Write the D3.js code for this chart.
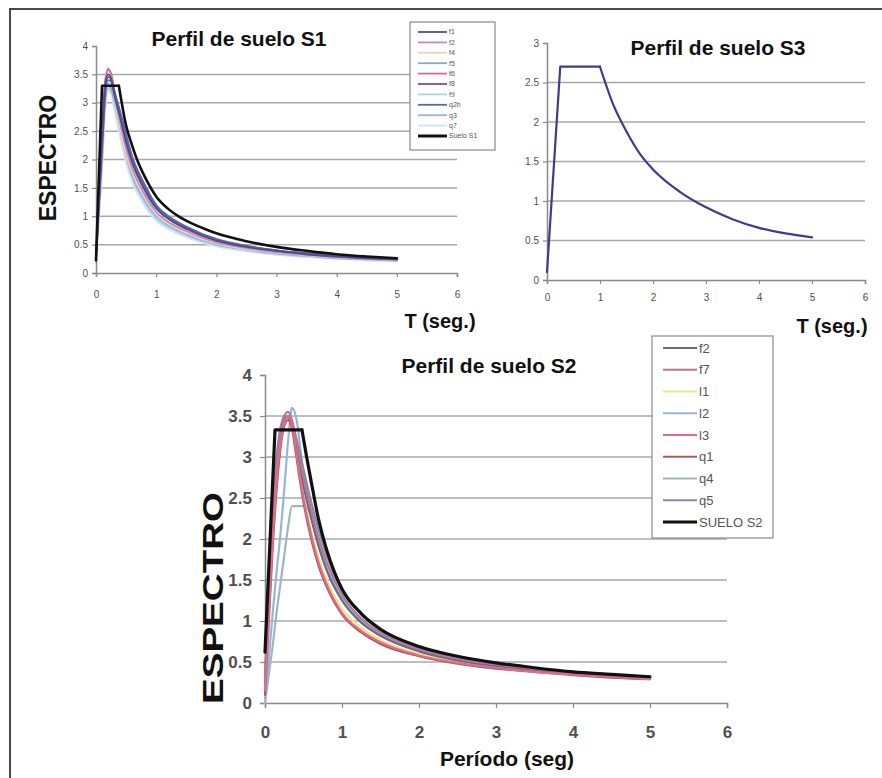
<html>
<head>
<meta charset="utf-8">
<script src="https://cdn.jsdelivr.net/npm/d3@7"></script>
<style>
body { margin: 0; background: #fff; }
.chart text { font-family: "Liberation Sans", Arial, sans-serif; }
</style>
</head>
<body>
<svg class="chart"></svg>
<script>

// ---------- data ----------

// Perfil de suelo S1
var s1Names = ["f1", "f2", "f4", "f5", "f6", "f8", "f9", "q2h", "q3", "q7", "Suelo S1"];
var s1Colors = ["#4b4b9c", "#c48cb0", "#f4cfc0", "#86aeb8", "#cf6f94", "#8e4f78", "#acd0ea", "#5a6a9c", "#94b6e0", "#d2e2f2", "#111111"];
var s1T = [0, 0.1, 0.15, 0.2, 0.25, 0.3, 0.4, 0.5, 0.6, 0.8, 1.0, 1.25, 1.5, 2.0, 2.5, 3.0, 3.5, 4.0, 4.5, 5.0];
var s1_f1  = [0.3, 2.4, 3.3, 3.5, 3.42, 3.15, 2.75, 2.3, 1.95, 1.48, 1.14, 0.92, 0.78, 0.57, 0.46, 0.39, 0.33, 0.29, 0.26, 0.24];
var s1_f2  = [0.28, 2.2, 3.2, 3.6, 3.5, 3.2, 2.65, 2.2, 1.85, 1.4, 1.08, 0.87, 0.74, 0.54, 0.44, 0.37, 0.32, 0.28, 0.25, 0.23];
var s1_f4  = [0.3, 2.5, 3.4, 3.62, 3.45, 3.1, 2.55, 2.1, 1.78, 1.35, 1.04, 0.84, 0.71, 0.52, 0.42, 0.36, 0.31, 0.27, 0.25, 0.23];
var s1_f5  = [0.25, 2.1, 3.0, 3.3, 3.25, 3.05, 2.6, 2.15, 1.8, 1.38, 1.06, 0.86, 0.72, 0.53, 0.43, 0.36, 0.31, 0.28, 0.25, 0.23];
var s1_f6  = [0.3, 2.3, 3.35, 3.58, 3.52, 3.25, 2.78, 2.35, 1.98, 1.5, 1.15, 0.93, 0.78, 0.57, 0.46, 0.39, 0.33, 0.29, 0.26, 0.24];
var s1_f8  = [0.27, 2.2, 3.1, 3.45, 3.42, 3.2, 2.82, 2.4, 2.02, 1.55, 1.18, 0.95, 0.8, 0.58, 0.47, 0.4, 0.34, 0.3, 0.27, 0.24];
var s1_f9  = [0.22, 1.9, 2.9, 3.25, 3.2, 2.95, 2.45, 2.0, 1.66, 1.25, 0.96, 0.78, 0.66, 0.48, 0.39, 0.33, 0.29, 0.26, 0.23, 0.21];
var s1_q2h = [0.26, 2.3, 3.2, 3.4, 3.38, 3.22, 2.85, 2.45, 2.06, 1.58, 1.2, 0.97, 0.82, 0.6, 0.48, 0.4, 0.35, 0.3, 0.27, 0.25];
var s1_q3  = [0.24, 2.0, 3.05, 3.35, 3.3, 3.05, 2.55, 2.08, 1.72, 1.3, 1.0, 0.81, 0.68, 0.5, 0.41, 0.34, 0.3, 0.26, 0.24, 0.22];
var s1_q7  = [0.22, 1.8, 2.8, 3.2, 3.15, 2.9, 2.4, 1.95, 1.6, 1.2, 0.92, 0.75, 0.63, 0.47, 0.38, 0.32, 0.28, 0.25, 0.22, 0.2];
var s1CodeT = [0, 0.1, 0.38, 0.5, 0.6, 0.7, 0.8, 1.0, 1.2, 1.4, 1.6, 1.8, 2.0, 2.5, 3.0, 3.5, 4.0, 4.5, 5.0];
var s1Code  = [0.22, 3.3, 3.3, 2.6, 2.25, 1.95, 1.72, 1.35, 1.13, 0.98, 0.87, 0.78, 0.7, 0.56, 0.46, 0.39, 0.33, 0.29, 0.26];

// Perfil de suelo S3
var s3T    = [0, 0.25, 1.0, 1.25, 1.5, 1.75, 2.0, 2.5, 3.0, 3.5, 4.0, 4.5, 5.0];
var s3Vals = [0.1, 2.7, 2.7, 2.22, 1.88, 1.6, 1.4, 1.12, 0.92, 0.77, 0.66, 0.59, 0.54];

// Perfil de suelo S2
var s2Names = ["f2", "f7", "l1", "l2", "l3", "q1", "q4", "q5", "SUELO S2"];
var s2Colors = ["#6a6a82", "#b27898", "#efe48c", "#96b6d8", "#de6c8e", "#a85c5c", "#9fb6c0", "#8a88a2", "#111111"];
var s2T = [0, 0.05, 0.1, 0.15, 0.2, 0.25, 0.3, 0.35, 0.4, 0.5, 0.6, 0.7, 0.8, 1.0, 1.25, 1.5, 2.0, 2.5, 3.0, 3.5, 4.0, 4.5, 5.0];
var s2_f2 = [0.3, 1.4, 2.3, 2.9, 3.25, 3.45, 3.5, 3.4, 3.15, 2.65, 2.25, 1.9, 1.62, 1.25, 0.98, 0.82, 0.63, 0.52, 0.45, 0.4, 0.36, 0.33, 0.31];
var s2_f7 = [0.25, 1.3, 2.2, 2.85, 3.25, 3.5, 3.55, 3.45, 3.25, 2.75, 2.35, 2.0, 1.72, 1.32, 1.03, 0.86, 0.66, 0.54, 0.47, 0.42, 0.38, 0.34, 0.31];
var s2_l1 = [0.2, 1.2, 2.1, 2.75, 3.2, 3.45, 3.5, 3.35, 3.05, 2.52, 2.1, 1.76, 1.5, 1.15, 0.92, 0.77, 0.6, 0.5, 0.44, 0.39, 0.35, 0.32, 0.3];
var s2_l2 = [0.05, 0.55, 1.1, 1.6, 2.05, 2.6, 3.2, 3.6, 3.5, 2.8, 2.3, 1.95, 1.67, 1.28, 1.01, 0.84, 0.64, 0.53, 0.46, 0.41, 0.37, 0.34, 0.31];
var s2_l3 = [0.15, 1.1, 2.0, 2.7, 3.15, 3.4, 3.5, 3.4, 3.1, 2.5, 2.05, 1.7, 1.45, 1.1, 0.88, 0.74, 0.58, 0.49, 0.43, 0.38, 0.35, 0.32, 0.29];
var s2_q1 = [0.1, 1.0, 1.9, 2.6, 3.1, 3.38, 3.45, 3.35, 3.05, 2.45, 2.0, 1.66, 1.42, 1.08, 0.86, 0.72, 0.57, 0.48, 0.42, 0.38, 0.34, 0.31, 0.29];
var s2_q4 = [0.0, 0.35, 0.7, 1.1, 1.45, 1.8, 2.15, 2.4, 2.4, 2.4, 2.3, 1.98, 1.7, 1.3, 1.02, 0.85, 0.65, 0.54, 0.47, 0.41, 0.37, 0.34, 0.31];
var s2_q5 = [0.3, 1.45, 2.4, 3.0, 3.35, 3.5, 3.48, 3.38, 3.25, 2.85, 2.45, 2.1, 1.8, 1.38, 1.08, 0.89, 0.68, 0.56, 0.48, 0.42, 0.38, 0.35, 0.32];
var s2CodeT = [0, 0.13, 0.48, 0.55, 0.6, 0.7, 0.8, 0.9, 1.0, 1.25, 1.5, 2.0, 2.5, 3.0, 3.5, 4.0, 4.5, 5.0];
var s2Code  = [0.62, 3.33, 3.33, 2.95, 2.7, 2.22, 1.87, 1.6, 1.39, 1.09, 0.9, 0.69, 0.57, 0.49, 0.43, 0.38, 0.35, 0.32];

var xTicks = [0, 1, 2, 3, 4, 5, 6];
var yTicks4 = [0, 0.5, 1, 1.5, 2, 2.5, 3, 3.5, 4];
var yTicks3 = [0, 0.5, 1, 1.5, 2, 2.5, 3];

// ---------- drawing ----------

var width = 882, height = 778;
var chart = d3.select(".chart").attr("width", width).attr("height", height);

function pts(ts, vs) {
	return ts.map(function(t, i) { return [t, vs[i]]; });
}

// outer frame (only top and left edges are inside the picture)
chart.append("path")
	.attr("d", "M10,778 L10,9 L882,9")
	.attr("fill", "none")
	.attr("stroke", "#4a4a4a")
	.attr("stroke-width", 2);

function panel(opt) {
	var x = d3.scaleLinear().domain([0, 6]).range([opt.left, opt.right]);
	var y = d3.scaleLinear().domain([0, opt.ymax]).range([opt.bottom, opt.top]);
	var g = chart.append("g");

	// grid
	g.selectAll(".grid").data(opt.yTicks.filter(function(d) { return d > 0 && d < opt.ymax; }))
	  .enter().append("line")
		.attr("x1", x(0)).attr("x2", x(6))
		.attr("y1", function(d) { return y(d); }).attr("y2", function(d) { return y(d); })
		.attr("stroke", "#a9a9a9").attr("stroke-width", 1.5);

	var ya = g.append("g")
		.attr("transform", "translate(" + x(0) + ",0)")
		.call(d3.axisLeft(y).tickValues(opt.yTicks).tickSize(opt.tick).tickPadding(opt.ypad)
			.tickFormat(function(d) { return d; }));
	var xa = g.append("g")
		.attr("transform", "translate(0," + y(0) + ")")
		.call(d3.axisBottom(x).tickValues(xTicks).tickSize(opt.tick).tickPadding(opt.xpad)
			.tickFormat(d3.format("d")));
	[ya, xa].forEach(function(a) {
		a.select(".domain").attr("stroke", "#8a8a8a").attr("stroke-width", 1.5);
		a.selectAll(".tick line").attr("stroke", "#8a8a8a").attr("stroke-width", 1.2);
		a.selectAll("text").attr("font-size", opt.fs).attr("fill", "#505050")
			.attr("font-weight", opt.fw).attr("font-family", "'Liberation Sans', Arial, sans-serif");
	});

	var smooth = d3.line()
		.x(function(d) { return x(d[0]); })
		.y(function(d) { return y(d[1]); })
		.curve(d3.curveMonotoneX);
	var straight = d3.line()
		.x(function(d) { return x(d[0]); })
		.y(function(d) { return y(d[1]); });

	opt.series.forEach(function(s) {
		// code spectra: straight rise and plateau, smooth decay
		var parts = s.lin ? [straight(s.points.slice(0, s.lin)), smooth(s.points.slice(s.lin - 1))]
			: [smooth(s.points)];
		parts.forEach(function(d) {
			g.append("path")
				.attr("d", d)
				.attr("fill", "none")
				.attr("stroke", s.color)
				.attr("stroke-width", s.w)
				.attr("stroke-linejoin", "round")
				.attr("stroke-linecap", "round");
		});
	});

	// title
	g.append("text")
		.attr("x", opt.titleX).attr("y", opt.titleY)
		.attr("text-anchor", "middle")
		.attr("font-size", "21px").attr("font-weight", "bold").attr("fill", "#111")
		.text(opt.title);
	return { x: x, y: y, g: g };
}

// S1
var s1Records = [s1_f1, s1_f2, s1_f4, s1_f5, s1_f6, s1_f8, s1_f9, s1_q2h, s1_q3, s1_q7];
var s1Series = [];
var s1Order = [6, 9, 8, 3, 2, 1, 4, 5, 7, 0];
s1Order.forEach(function(k) {
	s1Series.push({ points: pts(s1T, s1Records[k]), color: s1Colors[k], w: 1.8 });
});
s1Series.push({ points: pts(s1CodeT, s1Code), color: s1Colors[10], w: 2.6, lin: 3 });

panel({ left: 96, right: 457, top: 46, bottom: 273, ymax: 4, yTicks: yTicks4,
	tick: 4, ypad: 4, xpad: 14, fs: "10px", fw: "normal",
	series: s1Series, title: "Perfil de suelo S1", titleX: 239, titleY: 46 });

// S3
panel({ left: 547, right: 865, top: 43, bottom: 280, ymax: 3, yTicks: yTicks3,
	tick: 4, ypad: 4, xpad: 10, fs: "10px", fw: "normal",
	series: [{ points: pts(s3T, s3Vals), color: "#3d3d8e", w: 2.2, lin: 3 }],
	title: "Perfil de suelo S3", titleX: 718, titleY: 55 });

// S2
var s2Records = [s2_f2, s2_f7, s2_l1, s2_l2, s2_l3, s2_q1, s2_q4, s2_q5];
var s2Series = [];
var s2Order = [6, 3, 2, 0, 7, 1, 5, 4];
s2Order.forEach(function(k) {
	s2Series.push({ points: pts(s2T, s2Records[k]), color: s2Colors[k], w: 2.2 });
});
s2Series.push({ points: pts(s2CodeT, s2Code), color: s2Colors[8], w: 3.2, lin: 3 });

panel({ left: 265, right: 727, top: 375, bottom: 703, ymax: 4, yTicks: yTicks4,
	tick: 5, ypad: 8, xpad: 18, fs: "17px", fw: "bold",
	series: s2Series, title: "Perfil de suelo S2", titleX: 489, titleY: 373 });

// axis titles
function label(txt, x, y, size, rot, len) {
	var t = chart.append("text")
		.attr("transform", "translate(" + x + "," + y + ")" + (rot ? " rotate(-90)" : ""))
		.attr("text-anchor", "middle")
		.attr("font-size", size).attr("font-weight", "bold").attr("fill", "#111")
		.text(txt);
	if (len) t.attr("textLength", len).attr("lengthAdjust", "spacingAndGlyphs");
}
label("ESPECTRO", 56, 158, "23px", true);
label("T (seg.)", 440, 328, "20px", false);
label("T (seg.)", 832, 333, "20px", false);
label("ESPECTRO", 223, 598, "30px", true, 212);
label("Período (seg)", 507, 766, "21px", false);

// legends
function legend(names, colors, bx, by, bw, bh, y0, step, lx1, lx2, fs) {
	var lg = chart.append("g");
	lg.append("rect")
		.attr("x", bx).attr("y", by).attr("width", bw).attr("height", bh)
		.attr("fill", "#fff").attr("stroke", "#8a8a8a").attr("stroke-width", 1.2);
	names.forEach(function(n, i) {
		var last = i == names.length - 1;
		lg.append("line")
			.attr("x1", lx1).attr("x2", lx2)
			.attr("y1", y0 + i * step).attr("y2", y0 + i * step)
			.attr("stroke", colors[i]).attr("stroke-width", last ? 3 : 1.8);
		lg.append("text")
			.attr("x", lx2 + 2).attr("y", y0 + i * step)
			.attr("dy", "0.35em")
			.attr("font-size", fs).attr("fill", "#555")
			.text(n);
	});
}
legend(s1Names, s1Colors, 410, 22, 85, 128, 32, 10.4, 418, 447, "7px");
legend(s2Names, s2Colors, 652, 336, 121, 202, 348, 21.75, 663, 697, "13px");

</script>
</body>
</html>
